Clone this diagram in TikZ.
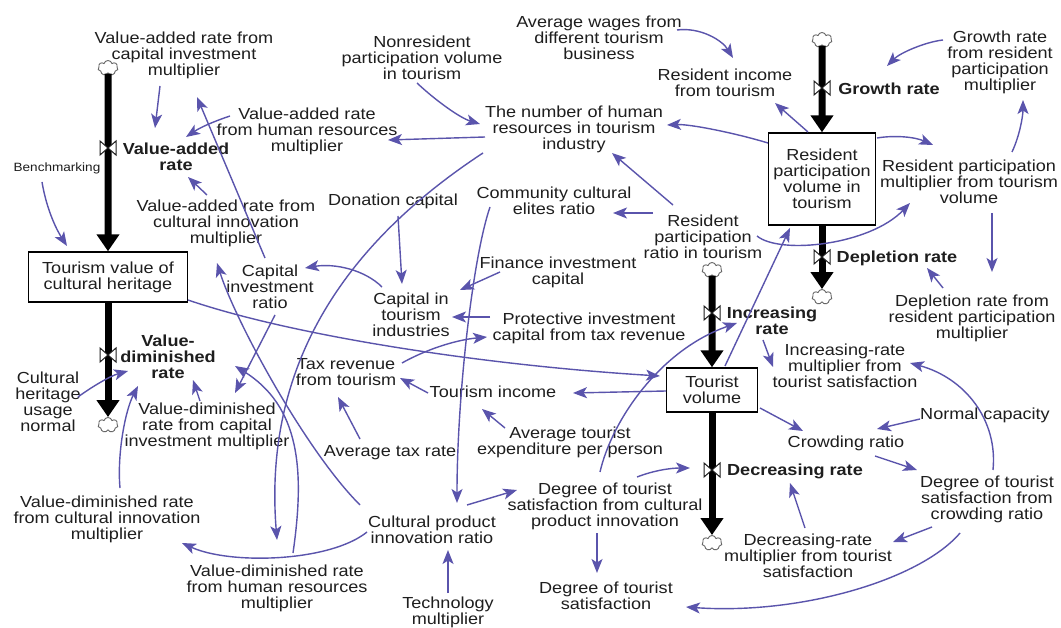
\documentclass[tikz,border=0pt]{standalone}
\usepackage{fontspec}
\setmainfont{Liberation Sans}[FakeStretch=1.13]
\usetikzlibrary{arrows.meta,calc,shapes.symbols}
\definecolor{ink}{RGB}{30,30,30}
\definecolor{linkc}{RGB}{90,84,172}
\tikzset{
  lbl/.style={font=\fontsize{16}{16}\selectfont, align=center, inner sep=0pt, text=ink},
  ratelbl/.style={lbl, font=\fontsize{16}{16}\selectfont\bfseries},
  small/.style={lbl, font=\fontsize{12}{12}\selectfont},
  stock/.style={lbl, draw=black, line width=1.4pt},
  conn/.style={draw=linkc, line width=1.4pt, -{Stealth[length=14pt,width=11pt,inset=3.5pt]}},
  pipe/.style={draw=black, line width=7pt, -{Triangle[length=17pt,width=22pt]}},
  sink/.style={cloud, cloud puffs=7, aspect=1.3, draw=gray!80!black, fill=white,
               line width=0.9pt, minimum width=20pt, minimum height=15pt, inner sep=0pt},
  valvepic/.pic={\draw[draw=ink, fill=white, line width=1pt]
     (-8,-7) -- (8,7) -- (8,-7) -- (-8,7) -- cycle;}
}
\begin{document}
\begin{tikzpicture}[x=1pt,y=-1pt]
\useasboundingbox (0,0) rectangle (1061,628);
\fill[white] (0,0) rectangle (1061,628);

% ---- stocks ----
\node[stock, minimum width=159pt, minimum height=50pt] (tv) at (108,277) {Tourism value of\\cultural heritage};
\node[stock, minimum width=107pt, minimum height=92pt] (rpv) at (822,179) {Resident\\participation\\volume in\\tourism};
\node[stock, minimum width=91pt, minimum height=44pt] (tvol) at (712,390) {Tourist\\volume};

% ---- sources and sinks ----
\node[sink] (c1) at (108,68) {};
\node[sink] (c2) at (108,425) {};
\node[sink] (c3) at (822,40) {};
\node[sink] (c4) at (822,297) {};
\node[sink] (c5) at (712,270) {};
\node[sink] (c6) at (712,543) {};

% ---- rate labels ----
\node[ratelbl] (va) at (176,157) {Value-added\\rate};
\node[ratelbl] (vd) at (168,357) {Value-\\diminished\\rate};
\node[ratelbl] (gr) at (889,89) {Growth rate};
\node[ratelbl] (dep) at (897,258) {Depletion rate};
\node[ratelbl] (inc) at (772,321) {Increasing\\rate};
\node[ratelbl] (dec) at (795,471) {Decreasing rate};

% ---- auxiliaries ----
\node[lbl] (vacap) at (184,55) {Value-added rate from\\capital investment\\multiplier};
\node[lbl] (vahr) at (307,131) {Value-added rate\\from human resources\\multiplier};
\node[lbl] (vacul) at (226,223) {Value-added rate from\\cultural innovation\\multiplier};
\node[small] (bench) at (57,168) {Benchmarking};
\node[lbl] (chun) at (48,402) {Cultural\\heritage\\usage\\normal};
\node[lbl] (vdcap) at (207,426) {Value-diminished\\rate from capital\\investment multiplier};
\node[lbl] (vdcul) at (107,519) {Value-diminished rate\\from cultural innovation\\multiplier};
\node[lbl] (vdhr) at (277,588) {Value-diminished rate\\from human resources\\multiplier};
\node[lbl] (cir) at (270,287) {Capital\\investment\\ratio};
\node[lbl] (don) at (393,201) {Donation capital};
\node[lbl] (cti) at (411,315) {Capital in\\tourism\\industries};
\node[lbl] (cce) at (554,201) {Community cultural\\elites ratio};
\node[lbl] (fin) at (558,272) {Finance investment\\capital};
\node[lbl] (pro) at (589,328) {Protective investment\\capital from tax revenue};
\node[lbl] (tax) at (346,372) {Tax revenue\\from tourism};
\node[lbl] (tinc) at (493,392) {Tourism income};
\node[lbl] (atr) at (390,453) {Average tax rate};
\node[lbl] (ate) at (570,442) {Average tourist\\expenditure per person};
\node[lbl] (cpi) at (432,530) {Cultural product\\innovation ratio};
\node[lbl] (tech) at (448,612) {Technology\\multiplier};
\node[lbl] (dsc) at (605,506) {Degree of tourist\\satisfaction from cultural\\product innovation};
\node[lbl] (ds) at (606,596) {Degree of tourist\\satisfaction};
\node[lbl] (drm) at (808,556) {Decreasing-rate\\multiplier from tourist\\satisfaction};
\node[lbl] (crowd) at (846,443) {Crowding ratio};
\node[lbl] (ncap) at (985,415) {Normal capacity};
\node[lbl] (dscr) at (987,499) {Degree of tourist\\satisfaction from\\crowding ratio};
\node[lbl] (irm) at (845,366) {Increasing-rate\\multiplier from\\tourist satisfaction};
\node[lbl] (drr) at (972,318) {Depletion rate from\\resident participation\\multiplier};
\node[lbl] (rpm) at (969,182) {Resident participation\\multiplier from tourism\\volume};
\node[lbl] (grm) at (1000,62) {Growth rate\\from resident\\participation\\multiplier};
\node[lbl] (rinc) at (725,83) {Resident income\\from tourism};
\node[lbl] (awg) at (599,38) {Average wages from\\different tourism\\business};
\node[lbl] (nonres) at (422,58) {Nonresident\\participation volume\\in tourism};
\node[lbl] (nhr) at (574,129) {The number of human\\resources in tourism\\industry};
\node[lbl] (rpr) at (703,237) {Resident\\participation\\ratio in tourism};

% ---- material flows ----
\draw[pipe] (c1.south) -- (tv.north);
\draw[pipe] (tv.south) -- (c2.north);
\draw[pipe] (c3.south) -- (rpv.north);
\draw[pipe] (rpv.south) -- (c4.north);
\draw[pipe] (c5.south) -- (tvol.north);
\draw[pipe] (tvol.south) -- (c6.north);
\pic at (108,148) {valvepic};
\pic at (108,355) {valvepic};
\pic at (822,88) {valvepic};
\pic at (822,257) {valvepic};
\pic at (712,313) {valvepic};
\pic at (712,470) {valvepic};

% ---- information links ----
\draw[conn] ($(vacap)+(-24,31)$) -- ($(va)+(-21,-29)$);
\draw[conn] ($(vahr)+(-77,-15)$) .. controls +(-15,5) and +(15,-10) .. ($(va)+(10,-20)$);
\draw[conn] ($(vacul)+(-19,-28)$) -- ($(va)+(12,20)$);
\draw[conn] ($(bench)+(-15,14)$) .. controls +(5,30) and +(-9,-14) .. ($(tv)+(-41,-31)$);
\draw[conn] ($(cir)+(-5,-29)$) -- ($(vacap)+(13,42)$);
\draw[conn] ($(cti)+(-29,-28)$) .. controls +(-17,-17) and +(30,-5) .. ($(cir)+(35,-19)$);
\draw[conn] ($(don)+(5,15)$) -- ($(cti)+(-9,-31)$);
\draw[conn] ($(nhr)+(-89,8)$) -- ($(vahr)+(81,9)$);
\draw[conn] ($(nonres)+(-5,25)$) .. controls +(18,17) and +(-20,-6) .. ($(nhr)+(-94,-5)$);
\draw[conn] ($(nhr)+(-91,24)$) .. controls +(-163,107) and +(-12,-150) .. ($(vdhr)+(0,-48)$);
\draw[conn] ($(cir)+(5,28)$) -- ($(vdcap)+(28,-33)$);
\draw[conn] ($(vdcap)+(-7,-25)$) -- ($(vd)+(25,23)$);
\draw[conn] ($(vdcul)+(13,-31)$) .. controls +(-3,-33) and +(-13,25) .. ($(vd)+(-30,29)$);
\draw[conn] ($(chun)+(30,-5)$) .. controls +(12,-9) and +(-18,5) .. ($(vd)+(-40,14)$);
\draw[conn] ($(vdhr)+(16,-35)$) .. controls +(12,-83) and +(65,40) .. ($(vd)+(67,9)$);
\draw[conn] ($(cpi)+(-72,-25)$) .. controls +(-55,-55) and +(18,57) .. ($(vacul)+(-9,40)$);
\draw[conn] ($(cpi)+(-65,2)$) .. controls +(-37,30) and +(48,22) .. ($(vdcul)+(75,24)$);
\draw[conn] ($(tv)+(80,23)$) .. controls +(102,35) and +(-180,-11) .. ($(tvol)+(-52,-14)$);
\draw[conn] ($(cce)+(-64,6)$) .. controls +(-18,53) and +(0,-103) .. ($(cpi)+(25,-27)$);
\draw[conn] ($(fin)+(-58,0)$) -- ($(cti)+(49,-25)$);
\draw[conn] ($(pro)+(-99,-11)$) -- ($(cti)+(41,2)$);
\draw[conn] ($(tax)+(56,-9)$) .. controls +(23,-13) and +(-32,3) .. ($(pro)+(-102,9)$);
\draw[conn] ($(tinc)+(-65,1)$) -- ($(tax)+(54,6)$);
\draw[conn] ($(tvol)+(-46,1)$) -- ($(tinc)+(80,1)$);
\draw[conn] ($(atr)+(-30,-14)$) -- ($(tax)+(-8,25)$);
\draw[conn] ($(ate)+(-65,-14)$) -- ($(tinc)+(-11,17)$);
\draw[conn] ($(tech)+(0,-19)$) -- ($(cpi)+(16,20)$);
\draw[conn] ($(cpi)+(35,-25)$) -- ($(dsc)+(-88,-16)$);
\draw[conn] ($(dsc)+(32,-29)$) .. controls +(18,-7) and +(-18,0) .. ($(dec)+(-105,-3)$);
\draw[conn] ($(dsc)+(-8,27)$) -- ($(ds)+(-9,-23)$);
\draw[conn] ($(dsc)+(-5,-34)$) .. controls +(12,-52) and +(-77,27) .. ($(inc)+(-35,2)$);
\draw[conn] ($(inc)+(-9,19)$) -- ($(irm)+(-72,1)$);
\draw[conn] ($(dscr)+(6,-29)$) .. controls +(5,-50) and +(55,15) .. ($(irm)+(65,-3)$);
\draw[conn] ($(ncap)+(-65,4)$) -- ($(crowd)+(31,-14)$);
\draw[conn] ($(tvol)+(48,18)$) -- ($(crowd)+(-43,-12)$);
\draw[conn] ($(crowd)+(29,13)$) -- ($(dscr)+(-70,-29)$);
\draw[conn] ($(dscr)+(-55,28)$) -- ($(drm)+(85,-14)$);
\draw[conn] ($(drm)+(-3,-28)$) -- ($(dec)+(-5,12)$);
\draw[conn] ($(dscr)+(-27,34)$) .. controls +(-40,47) and +(114,8) .. ($(ds)+(80,11)$);
\draw[conn] ($(tvol)+(13,-24)$) -- ($(rpv)+(-32,49)$);
\draw[conn] ($(rpr)+(54,-1)$) .. controls +(23,19) and +(-40,42) .. ($(rpm)+(-59,21)$);
\draw[conn] ($(rpv)+(55,-41)$) .. controls +(18,-3) and +(-18,-8) .. ($(rpm)+(-36,-37)$);
\draw[conn] ($(rpv)+(-14,-47)$) -- ($(rinc)+(50,20)$);
\draw[conn] ($(rpv)+(-54,-36)$) .. controls +(-33,-10) and +(23,-1) .. ($(nhr)+(93,-4)$);
\draw[conn] ($(awg)+(78,-8)$) .. controls +(23,-3) and +(-11,-18) .. ($(rinc)+(8,-25)$);
\draw[conn] ($(grm)+(-57,-22)$) .. controls +(-18,2) and +(13,-13) .. ($(gr)+(-2,-23)$);
\draw[conn] ($(rpm)+(43,-30)$) .. controls +(8,-17) and +(0,15) .. ($(grm)+(23,38)$);
\draw[conn] ($(rpm)+(23,31)$) -- ($(drr)+(20,-46)$);
\draw[conn] ($(drr)+(-29,-30)$) -- ($(dep)+(30,10)$);
\draw[conn] ($(rpr)+(-50,-24)$) -- ($(cce)+(59,12)$);
\draw[conn] ($(rpr)+(-30,-32)$) -- ($(nhr)+(38,24)$);
\end{tikzpicture}
\end{document}
